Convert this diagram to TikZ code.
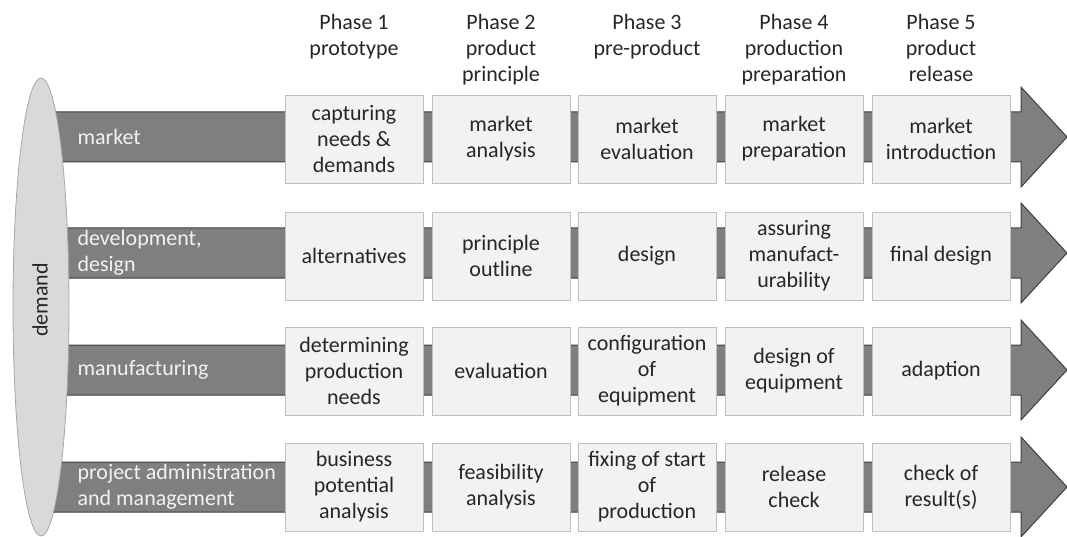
\documentclass[tikz,border=0pt]{standalone}
\usepackage{fontspec}
\usetikzlibrary{shapes.geometric}
\setmainfont{Carlito}
\begin{document}
\begin{tikzpicture}[x=1pt,y=-1pt,
  band/.style={fill=bandgray,draw=banddark,line width=1pt},
  stagebox/.style={draw=boxborder,fill=boxfill,line width=0.8pt,minimum width=138pt,minimum height=88pt,inner sep=0pt,align=center,font=\fontsize{22}{26}\selectfont,text=textdark},
  phase/.style={align=center,font=\fontsize{22}{26}\selectfont,text=textdark,anchor=north},
  bandlabel/.style={align=left,anchor=west,font=\fontsize{22}{26}\selectfont,text=white!95!black}]
\definecolor{bandgray}{HTML}{7F7F7F}
\definecolor{banddark}{HTML}{404040}
\definecolor{boxborder}{HTML}{BFBFBF}
\definecolor{boxfill}{HTML}{F2F2F2}
\definecolor{textdark}{HTML}{262626}
\definecolor{ellfill}{HTML}{D9D9D9}
\definecolor{ellborder}{HTML}{A6A6A6}
\useasboundingbox (0,0) rectangle (1067,537);
% bands with arrowheads
\foreach \c in {137,253,370,487}{
  \path[band] (38,\c-25) -- (1021,\c-25) -- (1021,\c-50) -- (1067,\c) -- (1021,\c+50) -- (1021,\c+25) -- (38,\c+25) -- cycle;
}
% ellipse
\node[draw=ellborder,fill=ellfill,line width=0.8pt,ellipse,minimum width=56pt,minimum height=458pt,inner sep=0pt] (demand) at (41,307) {};
\node[rotate=90,font=\fontsize{22}{26}\selectfont,text=textdark] (demandlbl) at (40,300) {demand};
% band labels
\node[bandlabel] (lmarket) at (74,137) {market};
\node[bandlabel] (ldev) at (74,253) {development,\\design};
\node[bandlabel] (lman) at (74,370) {manufacturing};
\node[bandlabel] (lproj) at (74,487) {project administration\\and management};
% phase headers
\node[phase] (p1) at (354,11) {Phase 1\\prototype};
\node[phase] (p2) at (501,11) {Phase 2\\product\\principle};
\node[phase] (p3) at (647,11) {Phase 3\\pre-product};
\node[phase] (p4) at (794,11) {Phase 4\\production\\preparation};
\node[phase] (p5) at (941,11) {Phase 5\\product\\release};
% row 1
\node[stagebox] (a1) at (354,139) {capturing\\needs \&\\demands};
\node[stagebox] (a2) at (501,139) {market\\analysis};
\node[stagebox] (a3) at (647,139) {market\\evaluation};
\node[stagebox] (a4) at (794,139) {market\\preparation};
\node[stagebox] (a5) at (941,139) {market\\introduction};
% row 2
\node[stagebox] (b1) at (354,256) {alternatives};
\node[stagebox] (b2) at (501,256) {principle\\outline};
\node[stagebox] (b3) at (647,256) {design};
\node[stagebox] (b4) at (794,256) {assuring\\manufact-\\urability};
\node[stagebox] (b5) at (941,256) {final design};
% row 3
\node[stagebox] (c1) at (354,371) {determining\\production\\needs};
\node[stagebox] (c2) at (501,371) {evaluation};
\node[stagebox] (c3) at (647,371) {configuration\\of\\equipment};
\node[stagebox] (c4) at (794,371) {design of\\equipment};
\node[stagebox] (c5) at (941,371) {adaption};
% row 4
\node[stagebox] (d1) at (354,487) {business\\potential\\analysis};
\node[stagebox] (d2) at (501,487) {feasibility\\analysis};
\node[stagebox] (d3) at (647,487) {fixing of start\\of\\production};
\node[stagebox] (d4) at (794,487) {release\\check};
\node[stagebox] (d5) at (941,487) {check of\\result(s)};
\end{tikzpicture}
\end{document}
